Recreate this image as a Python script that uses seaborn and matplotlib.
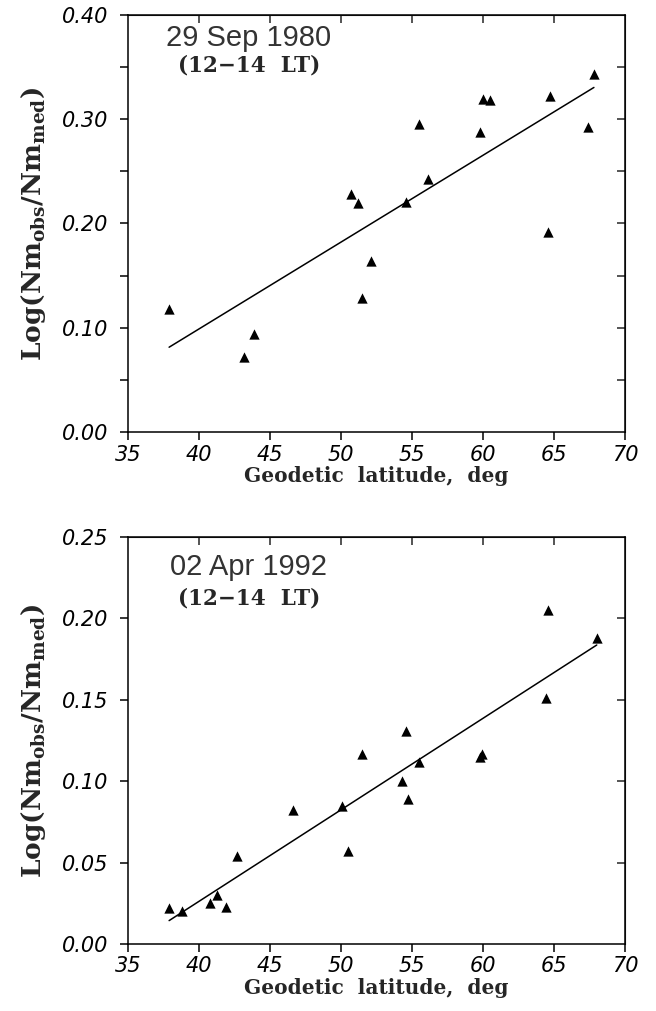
import numpy as np
import pandas as pd
import matplotlib
matplotlib.use("Agg")
import matplotlib.pyplot as plt
import seaborn as sns

# 29 Sep 1980 panel
sep_lat = [37.9, 43.2, 43.9, 50.7, 51.2, 51.5, 52.1, 54.6, 55.5, 56.1,
           59.8, 60.0, 60.5, 64.7, 64.6, 67.4, 67.8]
sep_log = [0.118, 0.072, 0.094, 0.228, 0.220, 0.129, 0.164, 0.221, 0.295, 0.243,
           0.288, 0.319, 0.318, 0.322, 0.192, 0.293, 0.343]

# 02 Apr 1992 panel
apr_lat = [37.9, 38.8, 40.8, 41.3, 41.9, 42.7, 46.6, 50.1, 50.5, 51.5,
           54.3, 54.6, 54.7, 55.5, 59.8, 59.9, 64.4, 64.6, 68.0]
apr_log = [0.022, 0.020, 0.025, 0.030, 0.023, 0.054, 0.082, 0.085, 0.057, 0.117,
           0.100, 0.131, 0.089, 0.112, 0.115, 0.117, 0.151, 0.205, 0.188]

x_ticks = [35, 40, 45, 50, 55, 60, 65, 70]
sep_yticks = [0.00, 0.05, 0.10, 0.15, 0.20, 0.25, 0.30, 0.35, 0.40]
sep_ylabels = ["0.00", "", "0.10", "", "0.20", "", "0.30", "", "0.40"]
apr_yticks = [0.00, 0.05, 0.10, 0.15, 0.20, 0.25]
apr_ylabels = ["0.00", "0.05", "0.10", "0.15", "0.20", "0.25"]

sns.set_style("ticks")
plt.rcParams["mathtext.fontset"] = "custom"
plt.rcParams["mathtext.rm"] = "DejaVu Serif"
plt.rcParams["mathtext.bf"] = "DejaVu Serif:bold"

tick_font = dict(family="DejaVu Sans", style="oblique", size=15)
ylab = r"$\mathbf{Log(Nm_{obs}/Nm_{med})}$"


def draw_panel(ax, lat, logr, yticks, ylabels, date, date_y, lt_y):
    df = pd.DataFrame({"lat": lat, "log": logr})
    sns.regplot(data=df, x="lat", y="log", ax=ax, ci=None, truncate=True,
                marker="^", color="black",
                scatter_kws=dict(s=55, linewidths=0, alpha=1),
                line_kws=dict(lw=1.1))
    ax.set_xlim(35, 70)
    ax.set_ylim(yticks[0], yticks[-1])
    ax.set_xticks(x_ticks)
    ax.set_xticklabels([str(v) for v in x_ticks], **tick_font)
    ax.set_yticks(yticks)
    ax.set_yticklabels(ylabels, **tick_font)
    ax.tick_params(direction="out", length=6, width=1.1, pad=3, colors="black")
    ax.tick_params(axis="y", pad=8)
    for sp in ax.spines.values():
        sp.set_visible(True)
        sp.set_linewidth(1.1)
        sp.set_color("black")

    # inward ticks on top and right
    top = ax.secondary_xaxis("top")
    top.set_xticks(x_ticks[1:-1])
    top.tick_params(direction="in", length=6, width=1.1, labeltop=False)
    right = ax.secondary_yaxis("right")
    right.set_yticks(yticks[1:-1])
    right.tick_params(direction="in", length=6, width=1.1, labelright=False)

    ax.set_xlabel("Geodetic  latitude,  deg", family="DejaVu Serif",
                  weight="bold", size=14.5, labelpad=1)
    ax.set_ylabel(ylab, size=19, labelpad=10)
    ax.text(0.243, date_y, date, transform=ax.transAxes, ha="center",
            va="center", family="Liberation Sans", size=21, color="#333333")
    ax.text(0.243, lt_y, "(12\u221214  LT)", transform=ax.transAxes,
            ha="center", va="center", family="DejaVu Serif", weight="bold",
            size=15.5)


fig = plt.figure(figsize=(6.56, 10.11), dpi=100)
ax1 = fig.add_axes([0.195, 0.5727, 0.758, 0.4125])
ax2 = fig.add_axes([0.195, 0.0663, 0.758, 0.4025])

draw_panel(ax1, sep_lat, sep_log, sep_yticks, sep_ylabels, "29 Sep 1980", 0.945, 0.878)
draw_panel(ax2, apr_lat, apr_log, apr_yticks, apr_ylabels, "02 Apr 1992", 0.926, 0.848)

fig.savefig("out.png", dpi=100)
